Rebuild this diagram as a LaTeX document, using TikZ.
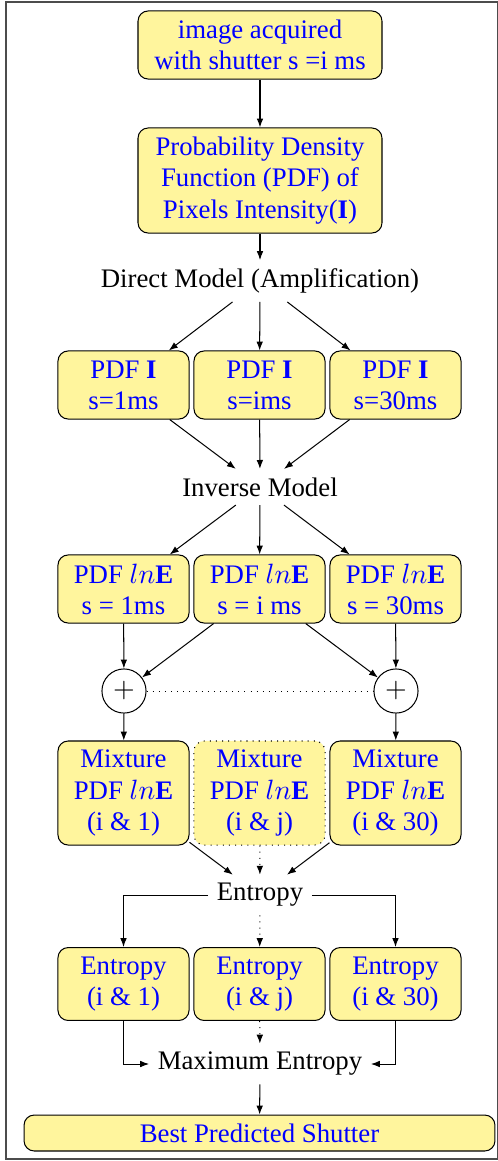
\documentclass[tikz,border=0pt]{standalone}
\usepackage{fontspec}
\setmainfont{Liberation Serif}
\usetikzlibrary{arrows.meta}
\definecolor{boxfill}{RGB}{255,245,157}
\definecolor{boxtext}{RGB}{0,0,255}
\begin{document}
\begin{tikzpicture}[x=0.3922pt,y=-0.3922pt,
  every node/.style={font=\fontsize{10.5}{12.2}\selectfont},
  box/.style={draw=black, fill=boxfill, rounded corners=4pt, text=boxtext, align=center, inner sep=0pt, line width=0.4pt},
  bigbox/.style={box, minimum width=95.7pt},
  smallbox/.style={box, minimum width=51.4pt},
  lbl/.style={text=black, inner sep=3.2pt},
  sumnode/.style={draw=black, circle, fill=white, minimum size=17.3pt, inner sep=0pt, line width=0.4pt},
  arr/.style={-{Latex[length=3.5pt,width=2.6pt]}, line width=0.4pt},
  darr/.style={arr, dotted},
  frame/.style={draw=black!70, line width=0.6pt}
  ]
\useasboundingbox (0,0) rectangle (498,1161);
\draw[frame] (6,2) rectangle (497.5,1159);

\node[bigbox, minimum height=26.7pt] (img) at (260,45) {image acquired\\with shutter s =i ms};
\node[bigbox, minimum height=41.2pt] (pdf) at (260,180.5) {Probability Density\\Function (PDF) of\\Pixels Intensity(\textbf{I})};
\node[lbl] (direct) at (260,281) {Direct Model (Amplification)};

\node[smallbox, minimum height=26.7pt] (i1) at (123.5,385) {PDF \textbf{I}\\s=1ms};
\node[smallbox, minimum height=26.7pt] (i2) at (259.5,385) {PDF \textbf{I}\\s=ims};
\node[smallbox, minimum height=26.7pt] (i3) at (395.5,385) {PDF \textbf{I}\\s=30ms};

\node[lbl] (inverse) at (260,487) {Inverse Model};

\node[smallbox, minimum height=26.7pt] (l1) at (123.5,589) {PDF $ln\mathbf{E}$\\s = 1ms};
\node[smallbox, minimum height=26.7pt] (l2) at (259.5,589) {PDF $ln\mathbf{E}$\\s = i ms};
\node[smallbox, minimum height=26.7pt] (l3) at (395.5,589) {PDF $ln\mathbf{E}$\\s = 30ms};

\node[sumnode] (c1) at (124,691) {$+$};
\node[sumnode] (c3) at (396,691) {$+$};

\node[smallbox, minimum height=40.8pt] (m1) at (123.5,793) {Mixture\\PDF $ln\mathbf{E}$\\(i \& 1)};
\node[smallbox, minimum height=40.8pt, dotted] (m2) at (259.5,793) {Mixture\\PDF $ln\mathbf{E}$\\(i \& j)};
\node[smallbox, minimum height=40.8pt] (m3) at (395.5,793) {Mixture\\PDF $ln\mathbf{E}$\\(i \& 30)};

\node[lbl] (ent) at (260,895) {Entropy};

\node[smallbox, minimum height=28.6pt] (e1) at (123.5,984) {Entropy\\(i \& 1)};
\node[smallbox, minimum height=28.6pt] (e2) at (259.5,984) {Entropy\\(i \& j)};
\node[smallbox, minimum height=28.6pt] (e3) at (395.5,984) {Entropy\\(i \& 30)};

\node[lbl] (maxent) at (260,1064) {Maximum Entropy};

\node[box, minimum width=184.7pt, minimum height=14.1pt] (best) at (259.5,1133) {Best Predicted Shutter};

\draw[arr] (img) -- (pdf);
\draw[arr] (pdf) -- (direct);
\draw[arr] (direct) -- (i1);
\draw[arr] (direct) -- (i2);
\draw[arr] (direct) -- (i3);
\draw[arr] (i1) -- (inverse);
\draw[arr] (i2) -- (inverse);
\draw[arr] (i3) -- (inverse);
\draw[arr] (inverse) -- (l1);
\draw[arr] (inverse) -- (l2);
\draw[arr] (inverse) -- (l3);
\draw[arr] (l1) -- (c1);
\draw[arr] (l2) -- (c1);
\draw[arr] (l2) -- (c3);
\draw[arr] (l3) -- (c3);
\draw[dotted, line width=0.4pt] (c1) -- (c3);
\draw[arr] (c1) -- (m1);
\draw[arr] (c3) -- (m3);
\draw[arr] (m1) -- (ent);
\draw[darr] (m2) -- (ent);
\draw[arr] (m3) -- (ent);
\draw[arr] (ent.west) -| (e1);
\draw[arr] (ent.east) -| (e3);
\draw[darr] (ent) -- (e2);
\draw[arr] (e1) |- (maxent.west);
\draw[arr] (e3) |- (maxent.east);
\draw[darr] (e2) -- (maxent);
\draw[arr] (maxent) -- (best);
\end{tikzpicture}
\end{document}
